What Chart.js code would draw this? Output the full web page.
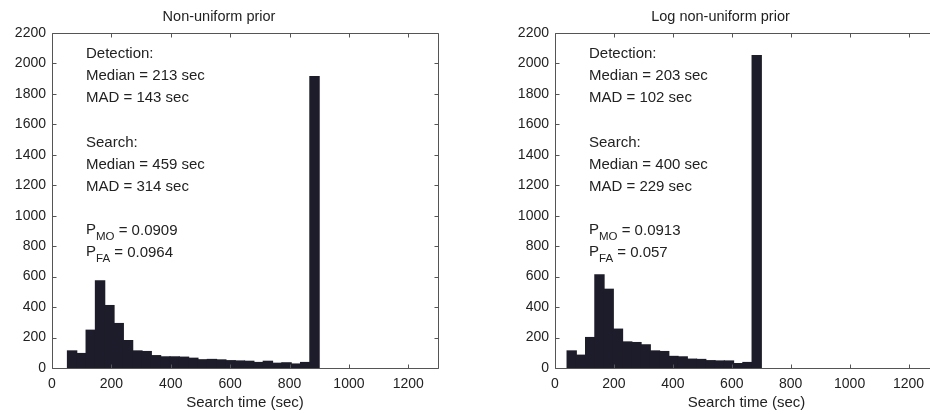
<!DOCTYPE html>
<html>
<head>
<meta charset="utf-8">
<script src="https://cdn.jsdelivr.net/npm/chart.js@4"></script>
<style>
  html, body { margin: 0; padding: 0; background: #fff; }
  body { width: 930px; height: 414px; overflow: hidden; position: relative; }
  .panel { position: absolute; top: 0; width: 470px; height: 414px; }
</style>
</head>
<body>
<div class="panel" style="left:0px"><canvas id="c1" width="470" height="414"></canvas></div>
<div class="panel" style="left:503px"><canvas id="c2" width="470" height="414"></canvas></div>
<script>
// ---- data ----
const leftTitle = 'Non-uniform prior';
const rightTitle = 'Log non-uniform prior';
const xAxisTitle = 'Search time (sec)';

const xTickValues = [0, 200, 400, 600, 800, 1000, 1200];
const yTickValues = [0, 200, 400, 600, 800, 1000, 1200, 1400, 1600, 1800, 2000, 2200];
const xMax = 1300;
const yMax = 2200;

// left histogram (bin centers, counts)
const leftBins = [67.7, 99.1, 130.5, 161.9, 193.3, 224.7, 256.1, 287.5, 318.9, 350.3, 381.7, 413.1, 444.5,
  475.9, 507.3, 538.7, 570.1, 601.5, 632.9, 664.3, 695.7, 727.1, 758.5, 789.9, 821.3, 852.7, 884.1];
const leftCounts = [116, 99, 252, 576, 414, 296, 184, 116, 112, 85, 77, 77, 75,
  68, 58, 60, 57, 52, 50, 48, 40, 48, 35, 38, 30, 40, 1917];

// right histogram (bin centers, counts)
const rightBins = [56.7, 88.1, 119.5, 150.9, 182.3, 213.7, 245.1, 276.5, 307.9, 339.3, 370.7, 402.1,
  433.5, 464.9, 496.3, 527.7, 559.1, 590.5, 621.9, 653.3, 684.7];
const rightCounts = [116, 88, 204, 615, 521, 259, 175, 171, 156, 116, 112, 80,
  77, 62, 60, 52, 50, 50, 33, 40, 2055];

const leftStats = ['Detection:', 'Median = 213 sec', 'MAD = 143 sec', '',
  'Search:', 'Median = 459 sec', 'MAD = 314 sec'];
const leftProbs = [['P', 'MO', ' = 0.0909'], ['P', 'FA', ' = 0.0964']];
const rightStats = ['Detection:', 'Median = 203 sec', 'MAD = 102 sec', '',
  'Search:', 'Median = 400 sec', 'MAD = 229 sec'];
const rightProbs = [['P', 'MO', ' = 0.0913'], ['P', 'FA', ' = 0.057']];

// ---- styling ----
const FONT = '"Liberation Sans", Arial, Helvetica, sans-serif';
const TEXT = '#222';
const AXIS = '#555';
const BAR = '#1d1c2a';

const boxPlugin = {
  id: 'matlabBox',
  afterDraw(chart) {
    const {ctx, chartArea: a, scales: {x, y}} = chart;
    ctx.save();
    ctx.strokeStyle = AXIS;
    ctx.lineWidth = 1;
    ctx.beginPath();
    const L = Math.round(a.left) + 0.5, R = Math.round(a.right) + 0.5;
    const T = Math.round(a.top) + 0.5, B = Math.round(a.bottom) + 0.5;
    ctx.rect(L, T, R - L, B - T);
    const tl = 4;
    x.ticks.forEach(t => {
      const px = Math.round(x.getPixelForValue(t.value)) + 0.5;
      ctx.moveTo(px, B); ctx.lineTo(px, B - tl);
      ctx.moveTo(px, T); ctx.lineTo(px, T + tl);
    });
    y.ticks.forEach(t => {
      const py = Math.round(y.getPixelForValue(t.value)) + 0.5;
      ctx.moveTo(L, py); ctx.lineTo(L + tl, py);
      ctx.moveTo(R, py); ctx.lineTo(R - tl, py);
    });
    ctx.stroke();
    ctx.restore();
  }
};

const statsPlugin = {
  id: 'statsText',
  afterDatasetsDraw(chart, args, opts) {
    if (!opts || !opts.lines) return;
    const {ctx, chartArea: a} = chart;
    ctx.save();
    ctx.fillStyle = TEXT;
    ctx.textBaseline = 'middle';
    ctx.textAlign = 'left';
    const x0 = a.left + 34;
    const step = 22.3;
    let yy = a.top + 20.5;
    ctx.font = '15px ' + FONT;
    opts.lines.forEach(s => {
      if (s) ctx.fillText(s, x0, yy);
      yy += step;
    });
    yy = a.top + 197;
    opts.probs.forEach(p => {
      ctx.font = '15px ' + FONT;
      ctx.fillText(p[0], x0, yy);
      let w = ctx.measureText(p[0]).width;
      ctx.font = '11.5px ' + FONT;
      ctx.fillText(p[1], x0 + w, yy + 7);
      w += ctx.measureText(p[1]).width;
      ctx.font = '15px ' + FONT;
      ctx.fillText(p[2], x0 + w, yy + 1);
      yy += 22;
    });
    ctx.restore();
  }
};

function makeChart(id, title, bins, counts, stats, probs, rightPad) {
  return new Chart(document.getElementById(id), {
    type: 'bar',
    data: {
      datasets: [{
        data: bins.map((b, i) => ({x: b, y: counts[i]})),
        backgroundColor: BAR,
        borderWidth: 0,
        barPercentage: 1.12,
        categoryPercentage: 1.0
      }]
    },
    plugins: [boxPlugin, statsPlugin],
    options: {
      responsive: false,
      animation: false,
      events: [],
      layout: { padding: { left: 0, right: rightPad, top: 0, bottom: 0 } },
      plugins: {
        legend: { display: false },
        tooltip: { enabled: false },
        title: {
          display: true, text: title, color: TEXT,
          font: { family: FONT, size: 14.5, weight: 'normal' },
          padding: { top: 8, bottom: 7.6 }
        },
        statsText: { lines: stats, probs: probs }
      },
      scales: {
        x: {
          type: 'linear', min: 0, max: xMax, offset: false,
          grid: { display: false, drawTicks: false },
          border: { display: false },
          afterBuildTicks: s => { s.ticks = xTickValues.map(v => ({value: v})); },
          afterFit: s => { s.height = 46; },
          ticks: { color: TEXT, font: { family: FONT, size: 14 }, padding: 8, maxRotation: 0, autoSkip: false,
            callback: v => String(v) },
          title: { display: true, text: xAxisTitle, color: TEXT,
            font: { family: FONT, size: 15 }, padding: { top: 0, bottom: 2 } }
        },
        y: {
          type: 'linear', min: 0, max: yMax,
          grid: { display: false, drawTicks: false },
          border: { display: false },
          afterBuildTicks: s => { s.ticks = yTickValues.map(v => ({value: v})); },
          afterFit: s => { s.width = 52; },
          ticks: { color: TEXT, font: { family: FONT, size: 14 }, padding: 6, autoSkip: false,
            callback: v => String(v) }
        }
      }
    }
  });
}

makeChart('c1', leftTitle, leftBins, leftCounts, leftStats, leftProbs, 32);
makeChart('c2', rightTitle, rightBins, rightCounts, rightStats, rightProbs, 35);
</script>
</body>
</html>
